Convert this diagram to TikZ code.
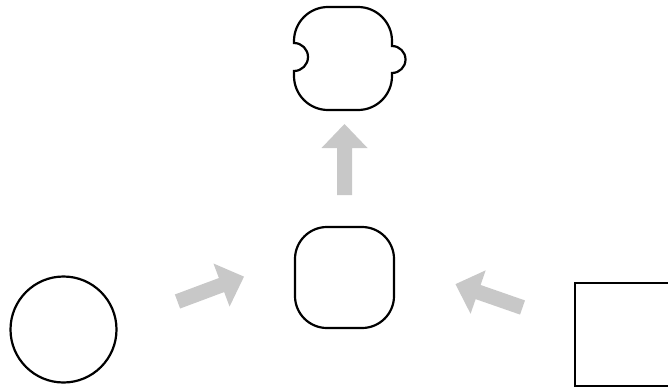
\documentclass[tikz,border=0pt]{standalone}
\definecolor{arrowgray}{RGB}{200,200,200}
\begin{document}
\begin{tikzpicture}[x=1pt,y=1pt,
  outline/.style={draw=black,line width=2.2pt},
  blockarr/.pic={\fill[arrowgray] (0,-7.5) -- (47,-7.5) -- (47,-23) -- (71,0) -- (47,23) -- (47,7.5) -- (0,7.5) -- cycle;}]
\useasboundingbox (0,0) rectangle (668,389);
% left circle
\node[outline,circle,minimum size=106pt,inner sep=0pt] (circ) at (63.5,59.5) {};
% right rectangle (cut by the border)
\begin{scope}
\clip (0,0) rectangle (668,389);
\draw[outline] (575,3) rectangle (700,106);
\coordinate (rect) at (620,54.5);
\end{scope}
% middle rounded square
\node[outline,rectangle,rounded corners=32pt,minimum width=99pt,minimum height=101pt,inner sep=0pt] (mid) at (344.5,111.5) {};
% top puzzle shape
\draw[outline] (294,346) -- (294,348) arc[start angle=180,end angle=90,radius=34]
  -- (358,382) arc[start angle=90,end angle=0,radius=34]
  -- (392,343) arc[start angle=90,end angle=-90,radius=13.5]
  -- (392,313) arc[start angle=0,end angle=-90,radius=34]
  -- (328,279) arc[start angle=-90,end angle=-180,radius=34]
  -- (294,318) arc[start angle=-90,end angle=90,radius=14]
  -- cycle;
\coordinate (top) at (343,330.5);
% block arrows
\pic[rotate=90] at (344.5,194) {blockarr};
\pic[rotate=20.5] at (177.5,87.5) {blockarr};
\pic[rotate=160.8] at (522.5,81.5) {blockarr};
\end{tikzpicture}
\end{document}
